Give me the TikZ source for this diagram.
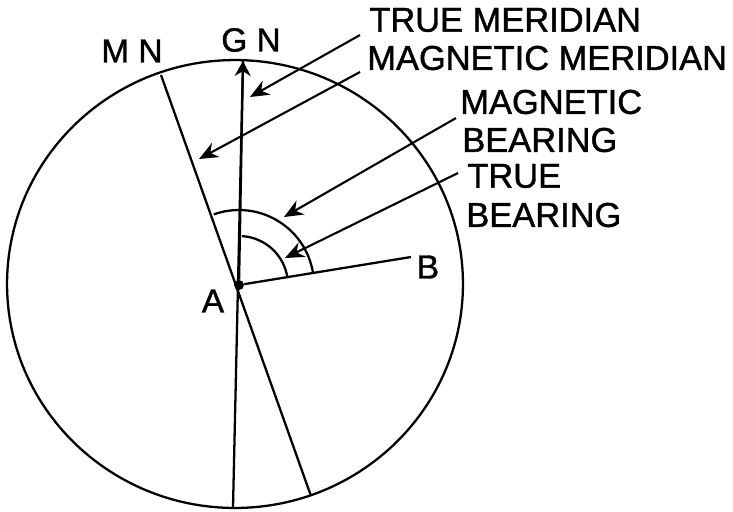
\documentclass[tikz,border=0pt]{standalone}
\usepackage{fontspec}
\setmainfont[RawFeature={embolden=1.2}]{Liberation Sans}
\usetikzlibrary{arrows.meta, positioning, shapes.geometric}

\tikzset{
  lab/.style={inner sep=0pt, anchor=west, font=\fontsize{19.6}{22}\selectfont},
  pt/.style={inner sep=0pt, font=\fontsize{19}{22}\selectfont},
  line/.style={line width=1.3pt},
  pointer/.style={line width=1.2pt, -{Stealth[length=3.8mm, width=3.2mm]}}
}

\begin{document}
\begin{tikzpicture}[x=0.02cm, y=-0.02cm]
    \useasboundingbox (0,0) rectangle (733,511);
    \node[draw, ellipse, line width=1.3pt, inner sep=0pt, minimum width=9.12cm, minimum height=8.96cm] (C) at (235,284) {};
    \node[circle, fill, inner sep=0pt, minimum size=0.2cm] (A) at (239,285) {};

    \coordinate (MN) at (161,75);
    \coordinate (MS) at (311,496);
    \coordinate (GN) at (243,61);
    \coordinate (GS) at (233,507);
    \coordinate (B) at (411,257);

    \node[pt] (MNt) at (132,51) {M N};
    \node[pt] (GNt) at (251,40) {G N};
    \node[pt] (At) at (213,301) {A};
    \node[pt] (Bt) at (428,267) {B};

    \node[lab] (T1) at (369,20) {TRUE MERIDIAN};
    \node[lab] (T2) at (367,58) {MAGNETIC MERIDIAN};
    \node[lab] (T3) at (460,102) {MAGNETIC};
    \node[lab] (T4) at (462,140) {BEARING};
    \node[lab] (T5) at (467,176) {TRUE};
    \node[lab] (T6) at (466,215) {BEARING};

    \draw[line] (MN) -- (MS);
    \draw[line] (A) -- (B);
    \draw[line] (GS) -- (GN);
    \draw[line, -{Stealth[length=3mm, width=3.2mm]}] (A) -- (GN);

    % angle marks
    \draw[line] (A) ++(-109.6:75) arc[start angle=-109.6, end angle=-9, radius=75];
    \draw[line] (A) ++(-86.5:49) arc[start angle=-86.5, end angle=-8.3, radius=49];

    \coordinate (P1) at (360,35);
    \coordinate (P2) at (360,72);
    \coordinate (P3) at (456,118);
    \coordinate (P4) at (458,173);
    \coordinate (H1) at (250,97);
    \coordinate (H2) at (199,159);
    \coordinate (H3) at (284,217);
    \coordinate (H4) at (285,258);

    \draw[pointer] (P1) -- (H1);
    \draw[pointer] (P2) -- (H2);
    \draw[pointer] (P3) -- (H3);
    \draw[pointer] (P4) -- (H4);
\end{tikzpicture}
\end{document}
